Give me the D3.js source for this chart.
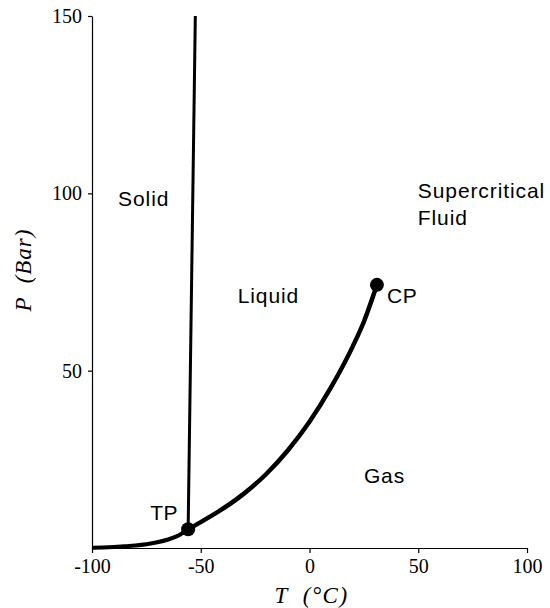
<!DOCTYPE html>
<html>
<head>
<meta charset="utf-8">
<script src="https://cdn.jsdelivr.net/npm/d3@7"></script>
<style>
  body { margin: 0; background: #fff; }
</style>
</head>
<body>
<div id="chart"></div>
<script>
// phase boundaries (T in °C, P in bar)
const sublimationT = [-100, -95, -90, -85, -80, -75, -70, -65, -60, -55.8]
const sublimationP = [0.05, 0.15, 0.3, 0.48, 0.7, 1.05, 1.6, 2.4, 3.6, 5.3]
const vaporT = [-55.8, -50, -40, -30, -20, -10, 0, 10, 20, 25, 31]
const vaporP = [5.3, 7.3, 11.0, 15.4, 20.8, 27.5, 35.6, 45.4, 57.0, 63.8, 74.2]
const meltingT = [-55.8, -52.5]
const meltingP = [5.3, 150]
const keyPoints = [
  { name: 'TP', T: -55.8, P: 5.3 },
  { name: 'CP', T: 31, P: 74.2 }
]
const regions = [
  { lines: ['Solid'], T: -88, P: 96.4 },
  { lines: ['Liquid'], T: -33, P: 69.1 },
  { lines: ['Supercritical', 'Fluid'], T: 49.8, P: 98.7 },
  { lines: ['Gas'], T: 25, P: 18.3 }
]
const xTicks = [-100, -50, 0, 50, 100]
const yTicks = [50, 100, 150]

const width = 550
const height = 608
const marginTop = 16, marginRight = 23, marginBottom = 60, marginLeft = 92

const svg = d3.select('#chart').append('svg')
    .attr('width', width)
    .attr('height', height)

const x = d3.scaleLinear()
    .domain([-100, 100])
    .range([marginLeft, width - marginRight])

const y = d3.scaleLinear()
    .domain([0, 150])
    .range([height - marginBottom, marginTop])

const serif = '"Liberation Serif", "Times New Roman", serif'
const sans = '"Liberation Sans", Arial, sans-serif'

// axes
const xAxis = svg.append('g')
    .attr('transform', `translate(0,${y(0)})`)
    .call(d3.axisBottom(x).tickValues(xTicks).tickFormat(d => String(d))
        .tickSize(5).tickSizeOuter(0).tickPadding(6))
xAxis.selectAll('text')
    .attr('font-family', serif)
    .attr('font-size', 20)
    .attr('fill', '#000')

const yAxis = svg.append('g')
    .attr('transform', `translate(${x(-100)},0)`)
    .call(d3.axisLeft(y).tickValues(yTicks).tickFormat(d => String(d))
        .tickSize(4).tickSizeOuter(0).tickPadding(6))
yAxis.selectAll('text')
    .attr('font-family', serif)
    .attr('font-size', 20)
    .attr('fill', '#000')
svg.selectAll('.domain, .tick line').attr('stroke', '#000').attr('stroke-width', 1.2)

// curves
const line = d3.line()
    .x(d => x(d[0]))
    .y(d => y(d[1]))
    .curve(d3.curveMonotoneX)

const curves = [
  { pts: d3.zip(sublimationT, sublimationP), w: 4 },
  { pts: d3.zip(vaporT, vaporP), w: 4.5 },
  { pts: d3.zip(meltingT, meltingP), w: 3 }
]

svg.selectAll('path.phase')
    .data(curves)
    .join('path')
    .attr('class', 'phase')
    .attr('d', d => line(d.pts))
    .attr('fill', 'none')
    .attr('stroke', '#000')
    .attr('stroke-width', d => d.w)

svg.selectAll('circle.key')
    .data(keyPoints)
    .join('circle')
    .attr('class', 'key')
    .attr('cx', d => x(d.T))
    .attr('cy', d => y(d.P))
    .attr('r', 7)
    .attr('fill', '#000')

svg.selectAll('text.key')
    .data(keyPoints)
    .join('text')
    .attr('class', 'key')
    .attr('x', d => d.name === 'TP' ? x(d.T) - 38 : x(d.T) + 10)
    .attr('y', d => d.name === 'TP' ? y(d.P) - 9 : y(d.P) + 18)
    .attr('font-family', sans)
    .attr('font-size', 21)
    .attr('letter-spacing', 0.6)
    .text(d => d.name)

const regionText = svg.selectAll('text.region')
    .data(regions)
    .join('text')
    .attr('class', 'region')
    .attr('x', d => x(d.T))
    .attr('y', d => y(d.P))
    .attr('font-family', sans)
    .attr('font-size', 21)
    .attr('letter-spacing', 0.9)

regionText.selectAll('tspan')
    .data(d => d.lines.map(l => ({ l, T: d.T })))
    .join('tspan')
    .attr('x', d => x(d.T))
    .attr('dy', (d, i) => i === 0 ? 0 : 27)
    .text(d => d.l)

// axis titles
svg.append('text')
    .attr('x', (x(-100) + x(100)) / 2 + 2)
    .attr('y', 603)
    .attr('text-anchor', 'middle')
    .attr('font-family', serif)
    .attr('font-style', 'italic')
    .attr('font-size', 23)
    .attr('letter-spacing', 1.5)
    .attr('xml:space', 'preserve')
    .text('T  (°C)')

svg.append('text')
    .attr('transform', `translate(31,270) rotate(-90)`)
    .attr('text-anchor', 'middle')
    .attr('font-family', serif)
    .attr('font-style', 'italic')
    .attr('font-size', 23)
    .attr('letter-spacing', 1)
    .attr('xml:space', 'preserve')
    .text('P  (Bar)')
</script>
</body>
</html>
